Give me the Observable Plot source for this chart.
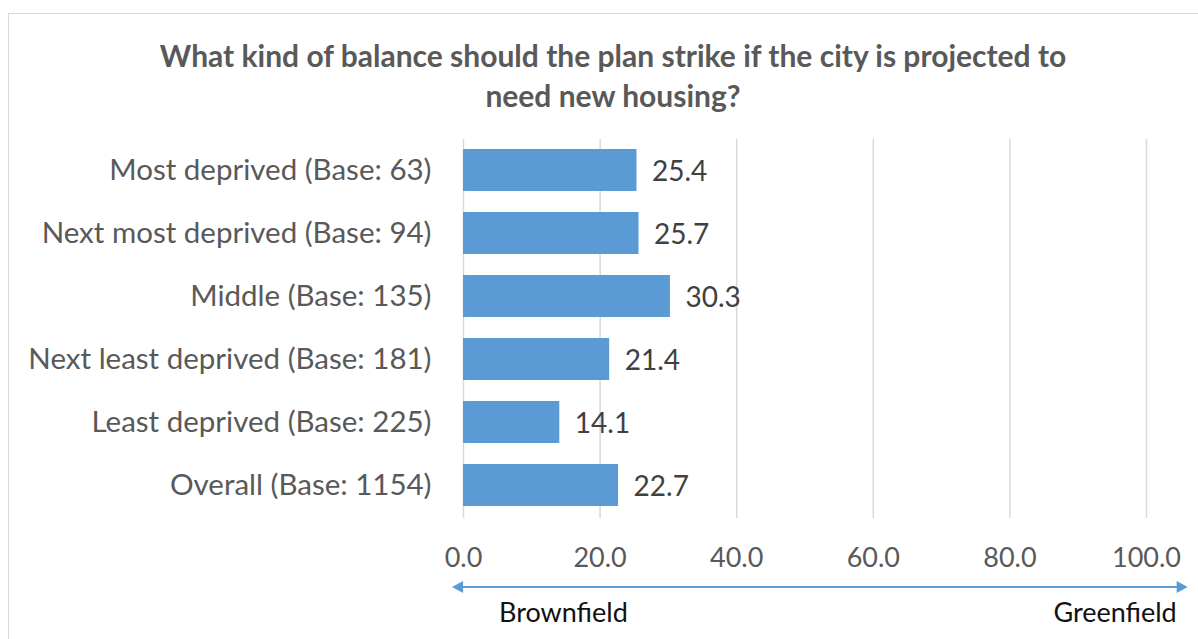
<!DOCTYPE html>
<html>
<head>
<meta charset="utf-8">
<script src="https://cdn.jsdelivr.net/npm/d3@7"></script>
<script src="https://cdn.jsdelivr.net/npm/@observablehq/plot@0.6"></script>
<style>
  html, body { margin: 0; padding: 0; background: #fff; }
  #wrap { position: relative; width: 1198px; height: 639px; overflow: hidden; font-family: Lato, "Open Sans", sans-serif; }
  #frame { position: absolute; left: 8px; top: 13px; width: 1200px; height: 700px; border: 1.5px solid #D9D9D9; box-sizing: border-box; }
  #title { position: absolute; left: 8px; width: 1210px; top: 35px; text-align: center; font-weight: bold; font-size: 30px; line-height: 40px; color: #595959; }
  #chart { position: absolute; left: 0; top: 0; }
</style>
</head>
<body>
<div id="wrap">
  <div id="frame"></div>
  <div id="chart"></div>
  <div id="title">What kind of balance should the plan strike if the city is projected to<br>need new housing?</div>
</div>
<script>
const categories = [
  "Most deprived (Base: 63)",
  "Next most deprived (Base: 94)",
  "Middle (Base: 135)",
  "Next least deprived (Base: 181)",
  "Least deprived (Base: 225)",
  "Overall (Base: 1154)"
];
const values = [25.4, 25.7, 30.3, 21.4, 14.1, 22.7];
const xTicks = [0, 20, 40, 60, 80, 100];
const scaleEnds = ["Brownfield", "Greenfield"];

const data = categories.map((c, i) => ({category: c, value: values[i]}));

const plot = Plot.plot({
  width: 1198,
  height: 639,
  marginTop: 139,
  marginBottom: 122,
  marginLeft: 463,
  marginRight: 52,
  style: {fontFamily: "Lato, 'Open Sans', sans-serif", background: "transparent"},
  x: {domain: [0, 100], axis: null},
  y: {domain: categories, paddingInner: 0.33, paddingOuter: 0.165, axis: null},
  marks: [
    Plot.ruleX(xTicks, {stroke: "#D9D9D9", strokeWidth: 1.5, y1: null, y2: null, insetBottom: -1}),
    Plot.barX(data, {y: "category", x: "value", fill: "#5B9BD5"}),
    Plot.text(data, {y: "category", x: "value", text: d => d.value.toFixed(1), textAnchor: "start", dx: 15, dy: 2, fontSize: 28, fill: "#404040"}),
    Plot.axisY({tickSize: 0, tickPadding: 32, fontSize: 29.5, color: "#595959", label: null}),
    Plot.axisX(xTicks, {tickSize: 0, tickPadding: 30, fontSize: 27, color: "#595959", tickFormat: d => d.toFixed(1), label: null})
  ]
});

document.getElementById("chart").appendChild(plot);

// Brownfield / Greenfield double-headed arrow below the axis
const xs = plot.scale("x");
const svg = d3.select(plot);
const yArrow = 587;
const xl = xs.apply(-1.6), xr = xs.apply(106.1);
const g = svg.append("g");
g.append("line").attr("x1", xl + 10).attr("x2", xr - 10).attr("y1", yArrow).attr("y2", yArrow)
  .attr("stroke", "#5B9BD5").attr("stroke-width", 2);
g.append("path").attr("d", `M${xl},${yArrow} L${xl + 11},${yArrow - 6} L${xl + 11},${yArrow + 6} Z`).attr("fill", "#5B9BD5");
g.append("path").attr("d", `M${xr},${yArrow} L${xr - 11},${yArrow - 6} L${xr - 11},${yArrow + 6} Z`).attr("fill", "#5B9BD5");
g.append("text").attr("x", xs.apply(14.7)).attr("y", 613).attr("dy", "0.35em").attr("text-anchor", "middle")
  .attr("font-size", 27).attr("fill", "#111").text(scaleEnds[0]);
g.append("text").attr("x", xs.apply(104.5)).attr("y", 613).attr("dy", "0.35em").attr("text-anchor", "end")
  .attr("font-size", 27).attr("fill", "#111").text(scaleEnds[1]);
</script>
</body>
</html>
